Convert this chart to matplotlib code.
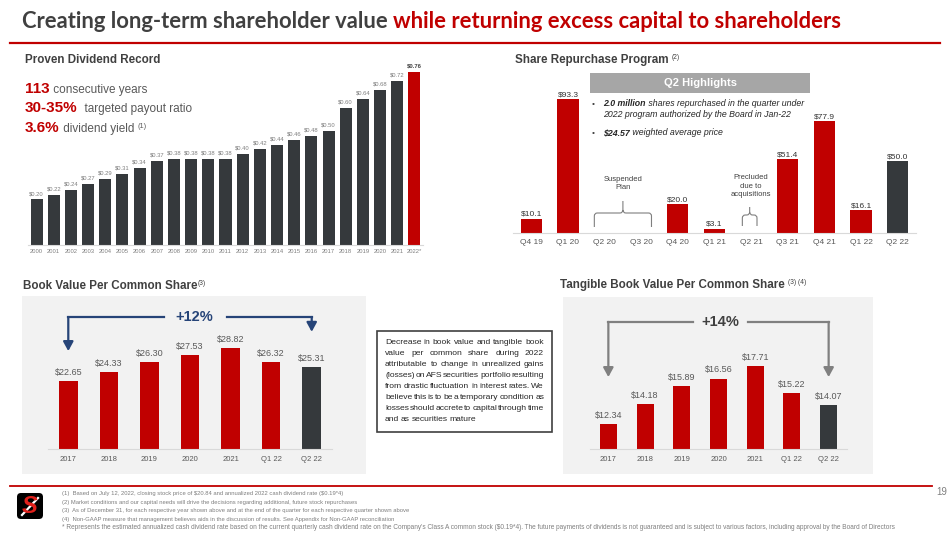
import matplotlib
matplotlib.use('Agg')
import matplotlib.pyplot as plt
from matplotlib.patches import Rectangle, FancyBboxPatch, PathPatch
from matplotlib.path import Path

W, H = 950, 534
RED = '#c00000'
DARK = '#35393c'
TXT = '#404040'
GRAY = '#595959'
LIGHT = '#7f7f7f'
plt.rcParams['font.family'] = ['Liberation Sans', 'DejaVu Sans']
plt.rcParams['text.parse_math'] = False

# ---- data ----
div_years = ['2000', '2001', '2002', '2003', '2004', '2005', '2006', '2007', '2008',
             '2009', '2010', '2011', '2012', '2013', '2014', '2015', '2016', '2017',
             '2018', '2019', '2020', '2021', '2022*']
div_values = [0.20, 0.22, 0.24, 0.27, 0.29, 0.31, 0.34, 0.37, 0.38, 0.38, 0.38, 0.38,
              0.40, 0.42, 0.44, 0.46, 0.48, 0.50, 0.60, 0.64, 0.68, 0.72, 0.76]

rep_quarters = ['Q4 19', 'Q1 20', 'Q2 20', 'Q3 20', 'Q4 20', 'Q1 21', 'Q2 21',
                'Q3 21', 'Q4 21', 'Q1 22', 'Q2 22']
rep_values = [10.1, 93.3, None, None, 20.0, 3.1, None, 51.4, 77.9, 16.1, 50.0]

bv_periods = ['2017', '2018', '2019', '2020', '2021', 'Q1 22', 'Q2 22']
bv_values = [22.65, 24.33, 26.30, 27.53, 28.82, 26.32, 25.31]
tbv_values = [12.34, 14.18, 15.89, 16.56, 17.71, 15.22, 14.07]

box_lines = ['Decrease in book value and tangible book',
             'value per common share during 2022',
             'attributable to change in unrealized gains',
             '(losses) on AFS securities portfolio resulting',
             'from drastic fluctuation in interest rates. We',
             'believe this is to be a temporary condition as',
             'losses should accrete to capital through time',
             'and as securities mature']

footnotes = ['(1)  Based on July 12, 2022, closing stock price of $20.84 and annualized 2022 cash dividend rate ($0.19*4)',
             '(2) Market conditions and our capital needs will drive the decisions regarding additional, future stock repurchases',
             '(3)  As of December 31, for each respective year shown above and at the end of the quarter for each respective quarter shown above',
             '(4)  Non-GAAP measure that management believes aids in the discussion of results. See Appendix for Non-GAAP reconciliation',
             "* Represents the estimated annualized cash dividend rate based on the current quarterly cash dividend rate on the Company's Class A common stock ($0.19*4). "
             "The future payments of dividends is not guaranteed and is subject to various factors, including approval by the Board of Directors"]

fig = plt.figure(figsize=(W / 100, H / 100), dpi=100)
bg = fig.add_axes([0, 0, 1, 1])
bg.set_xlim(0, W)
bg.set_ylim(H, 0)
bg.axis('off')
renderer = fig.canvas.get_renderer()


def px_axes(x0, y0, x1, y1):
    ax = fig.add_axes([x0 / W, 1 - y1 / H, (x1 - x0) / W, (y1 - y0) / H])
    ax.patch.set_alpha(0)
    for s in ['top', 'right', 'left']:
        ax.spines[s].set_visible(False)
    ax.spines['bottom'].set_color('#d9d9d9')
    ax.tick_params(left=False, labelleft=False, length=0)
    return ax


def text_run(x, y, parts, **common):
    for s, kw in parts:
        opts = dict(common)
        opts.update(kw)
        dy = opts.pop('dy', 0)
        t = bg.text(x, y + dy, s, va='baseline', ha='left', **opts)
        x += t.get_window_extent(renderer).width
    return x


def to_px(ax, x, y):
    return bg.transData.inverted().transform(ax.transData.transform((x, y)))


def brace(ax, xc, half, y_bot, y_sh, y_tip):
    # curly brace, tip pointing up, drawn in pixel coords on bg
    cx, _ = to_px(ax, xc, 0)
    x0, _ = to_px(ax, xc - half, 0)
    x1, _ = to_px(ax, xc + half, 0)
    r = 3
    verts = [(x0, y_bot), (x0, y_sh + r), (x0, y_sh), (x0 + r, y_sh),
             (cx - r, y_sh), (cx, y_sh), (cx, y_sh - r), (cx, y_tip),
             (cx, y_sh - r), (cx, y_sh), (cx + r, y_sh),
             (x1 - r, y_sh), (x1, y_sh), (x1, y_sh + r), (x1, y_bot)]
    codes = [Path.MOVETO, Path.LINETO, Path.CURVE3, Path.CURVE3,
             Path.LINETO, Path.CURVE3, Path.CURVE3, Path.LINETO,
             Path.MOVETO, Path.CURVE3, Path.CURVE3,
             Path.LINETO, Path.CURVE3, Path.CURVE3, Path.LINETO]
    bg.add_patch(PathPatch(Path(verts, codes), fill=False, ec='#7f7f7f', lw=0.8))


# ---- header ----
text_run(22, 27.5, [('Creating long-term shareholder value ', dict(color=TXT)),
                    ('while returning excess capital to shareholders', dict(color=RED))],
         fontsize=15.8, fontweight='bold', family='Lato')
bg.plot([10, 940], [43, 43], color=RED, lw=1.6)

# ---- proven dividend record ----
text_run(25, 63, [('Proven Dividend Record', {})], fontsize=8.4, fontweight='bold', color=TXT)
for y, big, small, sup in [(93, '113', ' consecutive years', ''),
                           (112, '30-35%', '  targeted payout ratio', ''),
                           (132, '3.6%', ' dividend yield ', '(1)')]:
    text_run(25, y, [(big, dict(fontsize=11, fontweight='bold', color=RED)),
                     (small, dict(fontsize=8.5, color=GRAY)),
                     (sup, dict(fontsize=5.2, color=GRAY, dy=-4))])

ax1 = px_axes(28, 72, 423, 245)
div_colors = [DARK] * (len(div_values) - 1) + [RED]
ax1.bar(range(len(div_values)), div_values, width=0.7, color=div_colors)
ax1.set_xlim(-0.5, len(div_values) - 0.5)
ax1.set_ylim(0, max(div_values))
ax1.set_xticks(range(len(div_years)), div_years, fontsize=4.2, color=LIGHT)
ax1.tick_params(axis='x', pad=3)
for i, v in enumerate(div_values):
    last = i == len(div_values) - 1
    ax1.annotate(f'${v:.2f}', (i, v), xytext=(0, 2.5), textcoords='offset points',
                 ha='center', va='bottom', fontsize=4.2,
                 color=TXT if last else LIGHT, fontweight='bold' if last else 'normal')

# ---- share repurchase ----
text_run(515, 63, [('Share Repurchase Program ', dict(fontsize=8.4, fontweight='bold')),
                   ('(2)', dict(fontsize=4.8, dy=-4))], color=TXT)
ax2 = px_axes(513, 99.3, 916, 233)
rep_idx = [i for i, v in enumerate(rep_values) if v is not None]
rep_vals = [rep_values[i] for i in rep_idx]
rep_colors = [DARK if i == len(rep_values) - 1 else RED for i in rep_idx]
ax2.bar(rep_idx, rep_vals, width=0.58, color=rep_colors)
ax2.set_xlim(-0.5, len(rep_values) - 0.5)
ax2.set_ylim(0, max(rep_vals))
ax2.set_xticks(range(len(rep_quarters)), rep_quarters, fontsize=6, color=GRAY)
ax2.tick_params(axis='x', pad=4)
for i, v in zip(rep_idx, rep_vals):
    ax2.annotate(f'${v:.1f}', (i, v), xytext=(0, 0.5), textcoords='offset points',
                 ha='center', va='bottom', fontsize=6, color='#333333')

bg.add_patch(Rectangle((590, 73), 220, 20, color='#a6a6a6', lw=0))
bg.text(700, 83.5, 'Q2 Highlights', ha='center', va='center', fontsize=8,
        fontweight='bold', color='white')
bg.text(592, 106, '•', fontsize=6, color=TXT, va='baseline')
text_run(603, 106, [('2.0 million', dict(fontweight='bold')),
                    (' shares repurchased in the quarter under', {})],
         fontsize=6.3, style='italic', color='#262626')
text_run(603, 117, [('2022 program authorized by the Board in Jan-22', {})],
         fontsize=6.3, style='italic', color='#262626')
bg.text(592, 135, '•', fontsize=6, color=TXT, va='baseline')
text_run(603, 135, [('$24.57', dict(fontweight='bold')),
                    (' weighted average price', {})],
         fontsize=6.3, style='italic', color='#262626')

sx, _ = to_px(ax2, 2.5, 0)
bg.text(sx, 183.5, 'Suspended\nPlan', ha='center', va='center', fontsize=5.5,
        color=TXT, linespacing=1.25)
brace(ax2, 2.5, 0.78, 227, 213, 201)
px_, _ = to_px(ax2, 6, 0)
bg.text(px_, 186, 'Precluded\ndue to\nacquisitions', ha='center', va='center',
        fontsize=5.5, color=TXT, linespacing=1.25)
brace(ax2, 5.96, 0.2, 226, 215, 207)

# ---- book value ----
text_run(23, 289, [('Book Value Per Common Share', dict(fontsize=8.4, fontweight='bold')),
                   ('(3)', dict(fontsize=4.8, dy=-4))], color=TXT)
bg.add_patch(Rectangle((22, 296), 344, 178, color='#f2f2f2', lw=0, zorder=0))
ax3 = px_axes(48, 342, 332, 449)
bar_colors = [RED] * (len(bv_values) - 1) + [DARK]
ax3.bar(range(len(bv_values)), bv_values, width=0.46, color=bar_colors)
ax3.set_xlim(-0.5, len(bv_values) - 0.5)
ax3.set_ylim(10, 30)
ax3.set_xticks(range(len(bv_periods)), bv_periods, fontsize=5.5, color=GRAY)
ax3.tick_params(axis='x', pad=5)
for i, v in enumerate(bv_values):
    ax3.annotate(f'${v:.2f}', (i, v), xytext=(0, 3), textcoords='offset points',
                 ha='center', va='bottom', fontsize=6.5, color=GRAY)

NAVY = '#264478'
arr = dict(arrowstyle='-|>,head_length=0.55,head_width=0.3', lw=1.6, shrinkA=0, shrinkB=0)
ax3.plot([0, 2.35], [34.67, 34.67], color=NAVY, lw=1.6, clip_on=False)
ax3.plot([3.92, 6], [34.67, 34.67], color=NAVY, lw=1.6, clip_on=False)
ax3.annotate('', xy=(0, 28.3), xytext=(0, 34.67), arrowprops=dict(color=NAVY, **arr),
             annotation_clip=False)
ax3.annotate('', xy=(6, 31.9), xytext=(6, 34.67), arrowprops=dict(color=NAVY, **arr),
             annotation_clip=False)
ax3.text(3.1, 34.67, '+12%', ha='center', va='center', fontsize=10.5,
         fontweight='bold', color=NAVY)

# ---- text box ----
bg.add_patch(Rectangle((377, 331), 175, 101, fill=False, ec='#404040', lw=1.2))
left, right = 385, 544
for k, line in enumerate(box_lines):
    y = 343 + k * 10.9
    words = line.split()
    texts = [bg.text(0, y, w, fontsize=6.1, va='center', ha='left', color='#262626')
             for w in words]
    widths = [t.get_window_extent(renderer).width for t in texts]
    if k == len(box_lines) - 1:
        gap = 1.7
    else:
        gap = (right - left - sum(widths)) / (len(words) - 1)
    x = left
    for t, w in zip(texts, widths):
        t.set_x(x)
        x += w + gap

# ---- tangible book value ----
text_run(560, 288, [('Tangible Book Value Per Common Share ', dict(fontsize=8.4, fontweight='bold')),
                    ('(3) (4)', dict(fontsize=4.8, dy=-4))], color=TXT)
bg.add_patch(Rectangle((563, 297), 310, 177, color='#f2f2f2', lw=0, zorder=0))
ax4 = px_axes(590, 352.4, 847, 449)
ax4.bar(range(len(tbv_values)), tbv_values, width=0.46, color=bar_colors)
ax4.set_xlim(-0.5, len(tbv_values) - 0.5)
ax4.set_ylim(10, 19)
ax4.set_xticks(range(len(bv_periods)), bv_periods, fontsize=5.5, color=GRAY)
ax4.tick_params(axis='x', pad=5)
for i, v in enumerate(tbv_values):
    ax4.annotate(f'${v:.2f}', (i, v), xytext=(0, 3), textcoords='offset points',
                 ha='center', va='bottom', fontsize=6.5, color=GRAY)

GR = '#808080'
ax4.plot([0, 2.3], [21.84, 21.84], color=GR, lw=1.6, clip_on=False)
ax4.plot([3.8, 6], [21.84, 21.84], color=GR, lw=1.6, clip_on=False)
ax4.annotate('', xy=(0, 16.7), xytext=(0, 21.84), arrowprops=dict(color=GR, **arr),
             annotation_clip=False)
ax4.annotate('', xy=(6, 16.7), xytext=(6, 21.84), arrowprops=dict(color=GR, **arr),
             annotation_clip=False)
ax4.text(3.05, 21.84, '+14%', ha='center', va='center', fontsize=10.5,
         fontweight='bold', color=TXT)

# ---- footer ----
bg.plot([10, 932], [486, 486], color=RED, lw=1.3)
bg.add_patch(FancyBboxPatch((17, 493), 26, 26, boxstyle='round,pad=0,rounding_size=4',
                            fc='black', ec='none'))
bg.text(30, 506.5, 'S', ha='center', va='center', fontsize=17, fontweight='bold',
        style='italic', color='#e0201b')
bg.plot([22, 38], [515, 498], color='white', lw=1.6)
for k, note in enumerate(footnotes):
    bg.text(62, 493.5 + k * 8.6, note, fontsize=4.2 if k < 4 else 4.72,
            color=LIGHT, va='center', ha='left')
bg.text(942, 492, '19', fontsize=7, color=LIGHT, ha='center', va='center')

fig.savefig('out.png', dpi=100)
